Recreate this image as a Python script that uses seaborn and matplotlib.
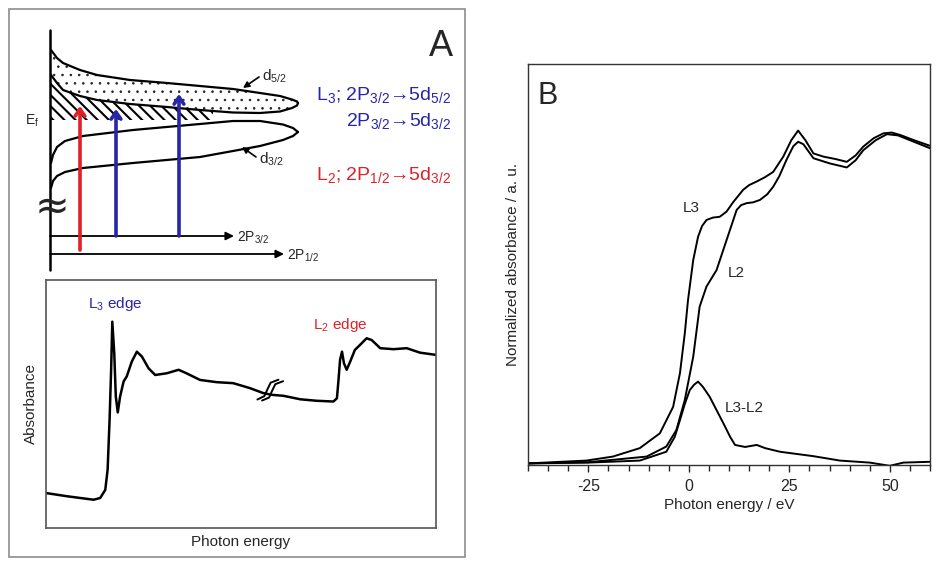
import numpy as np
import pandas as pd
import matplotlib
matplotlib.use("Agg")
import matplotlib.pyplot as plt
import seaborn as sns
from matplotlib.patches import Rectangle
from matplotlib.ticker import MultipleLocator

sns.set_style("ticks")
plt.rcParams['font.family'] = ['Liberation Sans', 'DejaVu Sans']
plt.rcParams['mathtext.default'] = 'regular'
plt.rcParams['axes.unicode_minus'] = False

BLUE = '#2626a8'
RED = '#e02028'

# Panel B: normalized absorbance vs photon energy (eV)
energy_l3 = [-40, -25.5, -18.9, -12.2, -7.2, -3.9, -2.2, -1.0, -0.2, 1.1, 2.3, 3.3, 4.4, 6.0, 7.7,
             9.4, 11.0, 13.5, 15.0, 16.9, 19.0, 21.0, 23.5, 25.5, 27.2, 29.0, 31.0, 33.5, 36.5, 39.3,
             41.5, 43.4, 46.0, 48.4, 50.5, 52.6, 56.0, 60]
abs_l3 = [0.004, 0.011, 0.021, 0.042, 0.079, 0.145, 0.229, 0.328, 0.411, 0.511, 0.569, 0.596, 0.611, 0.617, 0.619,
          0.632, 0.655, 0.686, 0.698, 0.707, 0.718, 0.731, 0.769, 0.81, 0.834, 0.81, 0.777, 0.769, 0.763, 0.756,
          0.772, 0.794, 0.815, 0.827, 0.829, 0.823, 0.81, 0.796]

energy_l2 = [-40, -25, -10.5, -5.6, -3.1, -1.0, 1.1, 2.7, 4.4, 6.9, 9.4, 11.9, 13.0, 14.4, 16.0, 17.7,
             19.5, 21.0, 22.5, 24.3, 26.0, 27.2, 28.5, 31.0, 35.1, 39.3, 41.5, 43.4, 46.5, 49.3, 52.0, 56.0, 60]
abs_l2 = [0.004, 0.007, 0.021, 0.046, 0.087, 0.162, 0.27, 0.395, 0.445, 0.486, 0.561, 0.636, 0.648, 0.653, 0.655,
          0.661, 0.675, 0.694, 0.72, 0.761, 0.795, 0.806, 0.80, 0.765, 0.752, 0.742, 0.76, 0.785, 0.81, 0.825,
          0.822, 0.806, 0.790]

energy_diff = [-40, -25, -12.2, -5.6, -3.5, -2.2, -1.0, 0.25, 1.3, 2.3, 3.5, 5.2, 8.6, 10.3, 11.5, 14.0,
               16.9, 19.0, 22.7, 31.0, 37.6, 45, 50, 53.4, 60]
abs_diff = [0.004, 0.006, 0.011, 0.033, 0.07, 0.112, 0.152, 0.187, 0.2, 0.208, 0.195, 0.17, 0.104, 0.07, 0.05,
            0.045, 0.05, 0.042, 0.033, 0.022, 0.011, 0.006, -0.002, 0.006, 0.008]

# Panel A lower: schematic absorption spectrum (arbitrary units)
sketch_e = [0, 5.4, 12.2, 13.9, 15.2, 15.8, 16.3, 16.7, 17.0, 17.5, 17.9, 18.4, 19.0, 19.9, 20.7, 22.0, 23.3,
            24.6, 26.3, 28.0, 31.0, 34.0, 36.0, 39.5, 43.8, 48.0, 52.3, 55.7, 57.9, 60.9, 65.2, 69.4, 73.7,
            74.6, 75.0, 75.4, 75.9, 76.4, 77.1, 78.0, 79.2, 80.5, 82.2, 83.5, 85.7, 89.1, 92.5, 95.9, 100]
sketch_a = [14.1, 12.8, 11.4, 12.1, 15.4, 23.5, 43.6, 63.8, 83.2, 70.5, 53.0, 46.6, 53.0, 59.1, 61.1, 67.1, 71.1,
            69.1, 64.4, 61.7, 62.4, 63.8, 62.4, 59.7, 58.8, 58.4, 56.4, 54.4, 53.7, 53.3, 51.9, 51.3, 51.0,
            52.3, 59.7, 67.8, 71.1, 66.4, 63.8, 67.1, 71.8, 73.8, 76.5, 75.8, 72.5, 72.1, 72.5, 70.7, 69.8]

# Panel A upper: density of states lobes (figure pixel coordinates)
d52_x = [51, 57, 63, 80, 97, 130, 167, 200, 233, 260, 280, 292, 297, 298]
d52_top = [50, 58, 63, 70, 75, 80, 83, 86, 89, 93, 96, 99.5, 101.5, 103]
d52_bot = [75, 83, 90, 96, 100, 104, 107, 110, 112.5, 113, 111.5, 108, 105.5, 103]
d32_x = [51, 53, 57, 65, 83, 133, 200, 233, 260, 283, 293, 298]
d32_top = [163, 155, 147, 141, 136, 130, 124, 121, 121, 124.5, 128, 132]
d32_bot = [188, 181, 176, 172, 168, 163, 157, 151, 146, 140, 136, 132]
fermi_level = 120

fig = plt.figure(figsize=(9.36, 5.61), dpi=100)

# overlay in pixel coordinates for the schematic
ov = fig.add_axes([0, 0, 1, 1])
ov.set_xlim(0, 936)
ov.set_ylim(561, 0)
ov.axis('off')
ov.add_patch(Rectangle((9, 9), 456, 548, fill=False, ec='#8c8c8c', lw=1.2))

# dotted d5/2 lobe
plt.rcParams['hatch.linewidth'] = 0.6
dots = ov.fill_between(d52_x, d52_top, d52_bot, facecolor='none', edgecolor='#222222', hatch='..', linewidth=0)
# hatched occupied part below the Fermi level
plt.rcParams['hatch.linewidth'] = 1.5
hx = np.linspace(51, 213, 60)
stripes = ov.fill_between(hx, np.interp(hx, d52_x, d52_bot), fermi_level, facecolor='none',
                          edgecolor='black', hatch='\\\\\\', linewidth=0)
if hasattr(dots, 'set_hatch_linewidth'):
    dots.set_hatch_linewidth(0.6)
    stripes.set_hatch_linewidth(1.5)
for yy in (d52_top, d52_bot):
    ov.plot(d52_x, yy, color='black', lw=1.6)
for yy in (d32_top, d32_bot):
    ov.plot(d32_x, yy, color='black', lw=1.6)

ov.plot([50, 50], [30, 270], color='black', lw=1.8)
ov.text(52, 207, '≈', fontsize=30, ha='center', va='center', family='DejaVu Sans')
ov.text(32, 121, 'E$_f$', fontsize=10, ha='center', va='center')

ov.annotate('', xy=(234, 236), xytext=(50, 236),
            arrowprops=dict(arrowstyle='-|>', lw=1.3, color='black', mutation_scale=12, shrinkA=0, shrinkB=0))
ov.annotate('', xy=(284, 254), xytext=(50, 254),
            arrowprops=dict(arrowstyle='-|>', lw=1.3, color='black', mutation_scale=12, shrinkA=0, shrinkB=0))
ov.text(237, 238, '2P$_{3/2}$', fontsize=10, ha='left', va='center')
ov.text(287, 256, '2P$_{1/2}$', fontsize=10, ha='left', va='center')

for ax_x, y0, y1, col in [(80, 250, 106, RED), (116, 236, 109, BLUE), (179, 236, 94, BLUE)]:
    ov.annotate('', xy=(ax_x, y1), xytext=(ax_x, y0),
                arrowprops=dict(arrowstyle='->,head_width=0.35,head_length=0.5', lw=2.6, color=col,
                                shrinkA=0, shrinkB=0))

ov.annotate('', xy=(243, 88), xytext=(259, 77),
            arrowprops=dict(arrowstyle='-|>', lw=1.2, color='black', mutation_scale=9, shrinkA=0, shrinkB=0))
ov.annotate('', xy=(242, 147), xytext=(256, 157),
            arrowprops=dict(arrowstyle='-|>', lw=1.2, color='black', mutation_scale=9, shrinkA=0, shrinkB=0))
ov.text(262, 76, 'd$_{5/2}$', fontsize=11, ha='left', va='center')
ov.text(259, 159, 'd$_{3/2}$', fontsize=11, ha='left', va='center')

ov.text(451, 95, 'L$_3$; 2P$_{3/2}$→5d$_{5/2}$', fontsize=14, color=BLUE, ha='right', va='center')
ov.text(451, 121, '2P$_{3/2}$→5d$_{3/2}$', fontsize=14, color=BLUE, ha='right', va='center')
ov.text(451, 175, 'L$_2$; 2P$_{1/2}$→5d$_{3/2}$', fontsize=14, color=RED, ha='right', va='center')
ov.text(441, 46, 'A', fontsize=26, ha='center', va='center')

# Panel A lower spectrum
axs = fig.add_axes([46 / 936, 33 / 561, 390 / 936, 248 / 561])
sns.lineplot(x=sketch_e, y=sketch_a, ax=axs, color='black', lw=1.8, sort=False)
axs.set_xlim(0, 100)
axs.set_ylim(0, 100)
axs.set_xticks([])
axs.set_yticks([])
for s in axs.spines.values():
    s.set_color('#555555')
    s.set_linewidth(1.2)
axs.set_xlabel('Photon energy', fontsize=11, labelpad=5)
axs.set_ylabel('Absorbance', fontsize=11, labelpad=6)
axs.text(17.7, 90.5, 'L$_3$ edge', color=BLUE, fontsize=11, ha='center', va='center')
axs.text(75.4, 82, 'L$_2$ edge', color=RED, fontsize=11, ha='center', va='center')
# axis break marks
axs.plot([54.2, 56.0, 56.8, 57.6, 59.6], [51.8, 53.2, 56.0, 58.6, 59.8], color='black', lw=1.4)
axs.plot([55.4, 57.2, 58.0, 58.8, 60.8], [51.4, 52.6, 55.4, 58.0, 59.2], color='black', lw=1.4)

# Panel B
axb = fig.add_axes([528 / 936, 96 / 561, 402 / 936, 401 / 561])
df = pd.concat([
    pd.DataFrame({'energy': energy_l3, 'absorbance': abs_l3, 'edge': 'L3'}),
    pd.DataFrame({'energy': energy_l2, 'absorbance': abs_l2, 'edge': 'L2'}),
    pd.DataFrame({'energy': energy_diff, 'absorbance': abs_diff, 'edge': 'L3-L2'}),
])
sns.lineplot(data=df, x='energy', y='absorbance', units='edge', estimator=None,
             color='black', lw=1.4, ax=axb, legend=False)
axb.set_xlim(-40, 60)
axb.set_ylim(0, 1)
axb.set_yticks([])
axb.set_xticks([-25, 0, 25, 50])
axb.xaxis.set_minor_locator(MultipleLocator(5))
axb.tick_params(axis='x', which='major', direction='out', length=5, width=1, labelsize=11.5, pad=5)
axb.tick_params(axis='x', which='minor', direction='out', length=4, width=1)
for s in axb.spines.values():
    s.set_color('#333333')
    s.set_linewidth(1.0)
axb.set_xlabel('Photon energy / eV', fontsize=11, labelpad=3)
axb.set_ylabel('Normalized absorbance / a. u.', fontsize=11, labelpad=6)
axb.text(0.7, 0.64, 'L3', fontsize=11, ha='center', va='center')
axb.text(11.7, 0.479, 'L2', fontsize=11, ha='center', va='center')
axb.text(13.7, 0.142, 'L3-L2', fontsize=11, ha='center', va='center')
axb.text(-35, 0.92, 'B', fontsize=22, ha='center', va='center')

fig.savefig('out.png', dpi=100)
